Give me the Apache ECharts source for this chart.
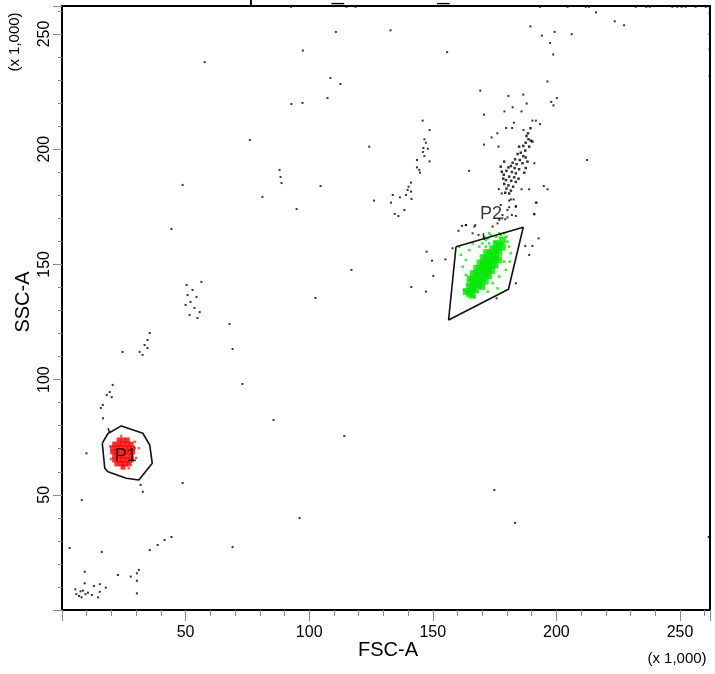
<!DOCTYPE html>
<html>
<head>
<meta charset="utf-8">
<script src="https://cdn.jsdelivr.net/npm/echarts@6/dist/echarts.min.js"></script>
<style>
html,body{margin:0;padding:0;background:#fff;}
#chart{width:715px;height:674px;}
</style>
</head>
<body>
<div id="chart"></div>
<script>
// ---- data (values in units of x 1,000) ----
const axisMax = 262.144;
const tickLabels = [50, 100, 150, 200, 250];
const chartTitle = 'Specimen_001-Tube_005';
const xName = 'FSC-A';
const yName = 'SSC-A';
const scaleNote = '(x 1,000)';

// ungated events (black)
const blackEvents = [
  [92.7,261.8],[115.1,261.8],[118.7,261.8],[193.4,261.8],[204.5,261.8],[211.9,261.8],[213.2,261.8],
  [232.1,261.8],[236.4,261.8],[237.8,261.8],[246.9,261.8],[248.9,261.8],[250.7,261.8],[252.3,261.8],
  [256.3,261.8],[260.4,261.8],[262.0,261.8],
  [262.0,259.0],[262.0,250.0],[262.0,243.4],[262.0,231.8],[261.6,31.7],
  [216.0,259.4],[223.6,255.5],[227.4,253.8],[206.2,249.9],
  [110.8,250.9],[132.9,251.6],[97.4,242.8],[155.8,242.1],[189.5,253.3],[194.1,249.3],[199.3,250.9],
  [197.4,246.1],[198.7,241.1],
  [57.7,237.8],[108.6,230.9],[107.4,222.2],[112.6,228.3],[92.8,219.6],[97.3,220.1],[76.0,204.0],
  [48.8,184.5],[88.0,191.0],[88.4,187.9],[88.8,185.3],[81.1,179.3],[94.9,174.0],[104.6,184.0],[44.3,165.4],
  [50.4,141.1],[52.8,138.9],[50.8,136.7],[54.4,135.9],[52.0,133.7],[50.0,132.4],[53.6,131.1],[55.7,129.3],
  [51.6,128.0],[54.8,126.7],[56.4,142.4],
  [67.8,124.1],[69.0,113.3],[73.0,98.1],
  [35.5,120.2],[34.6,117.2],[33.4,115.0],[34.6,113.7],[31.4,112.0],[32.6,110.7],[24.5,112.0],
  [20.5,97.7],[19.3,94.6],[20.1,92.4],[16.5,89.0],[15.7,87.7],[18.1,93.3],[16.6,83.2],
  [9.9,68.0],[31.8,54.3],[32.7,51.3],[48.8,55.1],[8.0,47.7],[3.1,26.9],
  [16.1,25.2],[35.5,26.0],[38.7,28.2],[41.5,30.4],[44.3,31.7],[69.0,27.3],[96.1,39.9],
  [114.2,75.5],[85.6,82.5],[117.1,147.6],[102.5,135.4],[141.3,140.2],[174.9,52.1],[183.3,37.8],
  [212.4,195.3],
  [9.2,16.6],[22.6,15.2],[27.8,14.5],[30.3,15.9],[31.1,17.4],[30.3,12.7],[30.3,7.2],[9.2,11.6],
  [12.9,10.4],[15.3,11.2],[17.7,9.7],[5.4,9.0],[5.8,6.9],[7.5,8.1],[8.5,8.4],[9.5,6.9],[10.5,7.5],
  [12.1,6.5],[14.6,5.5],[15.3,7.9],[7.9,5.5],[6.9,6.1],
  [169.2,225.4],[180.6,223.1],[186.6,223.7],[196.4,229.4],[200.2,222.2],[197.9,220.5],[198.8,219.0],
  [188.0,219.8],[182.3,218.2],[179.0,216.4],[185.9,216.4],[170.7,215.0],[190.3,212.4],[191.7,212.4],
  [193.4,210.9],[182.8,211.5],[179.7,209.2],[182.1,209.2],[186.7,208.3],[145.9,212.4],[148.7,208.3],
  [176.1,206.9],[173.8,205.1],[170.7,202.0],[176.6,201.1],[124.3,201.1],[146.6,204.3],[147.2,202.8],
  [148.0,200.2],[146.0,198.8],[146.2,200.5],[146.6,197.0],[143.6,195.3],[148.7,194.7],[144.5,191.0],
  [143.6,192.1],[144.8,189.8],[164.7,190.6],[141.2,185.5],[140.2,183.7],[139.8,182.3],[141.2,181.6],
  [139.2,180.1],[141.4,178.4],[136.7,179.1],[133.8,180.1],[133.1,176.8],[126.2,177.7],[138.5,173.6],
  [134.6,171.9],[136.1,171.0],[191.1,193.9],[194.9,184.0],[196.4,182.6],[189.0,182.6],[185.9,182.6],
  [191.7,176.8],[191.1,171.7],[183.6,175.0],[183.6,171.0],[180.9,174.8],[180.2,170.4],[177.5,175.8],
  [178.1,170.0],[176.7,182.7],[177.9,180.8],[181.6,178.2],[182.7,178.2],[163.4,167.0],[167.2,167.0],
  [174.2,166.4],[176.2,167.8],
  [180.9,177.7],[183.6,175.3],[192.0,176.8],[191.0,171.9],[180.2,173.6],[178.2,171.4],[179.3,169.6],
  [176.9,169.3],[182.0,171.4],[161.8,166.7],[163.4,167.1],[160.4,164.6],[166.8,166.4],[166.1,163.5],
  [168.5,162.8],[158.0,157.0],[147.5,155.5],[149.7,151.6],[155.1,152.2],[150.2,145.0],[147.2,138.2],
  [187.4,158.0],[190.3,158.0],[192.8,161.3],[189.0,154.1],[183.6,141.8],[175.8,135.3]
];

// dense ungated column above P2 (black)
const blackColumn = [
  [188.7,204.3],[189.7,203.7],[187.6,202.8],[186.6,201.4],[184.9,201.1],[187.4,199.4],[185.6,198.5],
  [184.3,197.9],[186.6,197.0],[183.3,195.6],[185.2,195.3],[187.6,196.4],[182.3,194.1],[183.9,193.5],
  [186.3,193.9],[181.6,192.7],[180.6,192.1],[183.1,191.8],[184.9,191.3],[179.8,190.6],[182.0,190.1],
  [183.6,189.5],[178.7,188.9],[180.9,188.1],[182.9,187.8],[184.7,187.2],[179.6,186.6],[181.7,186.3],
  [183.6,185.8],[178.9,184.9],[180.6,184.3],[182.5,183.7],[179.8,182.9],[181.6,182.0],[179.3,181.1],
  [180.9,180.8],[178.5,187.2],[177.9,190.2],[177.5,192.4],[178.9,194.6],[187.6,191.8],[187.0,189.8],
  [188.3,194.6],[189.0,201.1],[190.3,203.3],[187.9,205.7],[188.5,206.9],[189.5,209.1]
];

// P1 population (red)
const p1Core = [
  [23.1,73.8],[24.7,73.8],[26.4,73.8],
  [21.3,72.0],[23.1,72.0],[24.7,72.0],[26.4,72.0],[28.0,72.0],
  [20.5,70.3],[22.2,70.3],[23.9,70.3],[25.6,70.3],[27.2,70.3],[28.6,70.3],
  [20.5,68.6],[22.2,68.6],[23.9,68.6],[25.6,68.6],[27.2,68.6],[28.6,68.6],
  [21.3,66.8],[23.1,66.8],[24.7,66.8],[26.4,66.8],[28.0,66.8],
  [21.3,65.1],[23.1,65.1],[24.7,65.1],[26.4,65.1],[28.0,65.1],
  [22.2,63.4],[23.9,63.4],[25.6,63.4],[27.2,63.4],[24.7,62.0]
];
const p1Sparse = [
  [19.5,71.0],[29.5,73.0],[30.0,66.0],[24.0,75.5],[27.0,61.5],[19.8,65.5],[29.4,70.2],[31.1,70.2]
];

// P2 population (green)
const p2Core = [
  [164.8,137.4],[166.0,136.6],[163.6,138.2],
  [166.1,139.7],[167.3,138.9],[164.9,140.5],
  [167.5,142.0],[168.7,141.2],[166.3,142.8],[169.9,140.4],[165.1,143.6],
  [168.8,144.4],[170.0,143.6],[167.6,145.2],[171.2,142.8],[166.4,146.0],
  [170.2,146.7],[171.4,145.9],[169.0,147.5],[172.6,145.1],[167.8,148.3],
  [171.5,149.0],[172.7,148.2],[170.3,149.8],[173.9,147.4],[169.1,150.6],
  [172.8,151.3],[174.0,150.5],[171.6,152.1],[175.2,149.7],[170.4,152.9],
  [174.2,153.6],[175.4,152.8],[173.0,154.4],[176.6,152.0],[171.8,155.2],
  [175.5,156.0],[176.7,155.2],[174.3,156.8],
  [176.9,158.3],[178.1,157.5],[175.7,159.1],
  [178.2,160.6]
];
const p2Sparse = [
  [161.4,154.1],[162.1,149.0],[164.8,156.2],[171.5,160.6],[172.8,159.1],[175.5,162.0],[177.5,162.8],
  [178.9,163.5],[179.8,162.0],[180.9,157.7],[181.6,154.8],[181.2,151.2],[164.8,143.2],[164.1,141.1],
  [162.7,138.9],[174.2,141.8],[176.9,144.7],[168.8,157.7],[170.1,159.1],[173.5,162.8],[172.2,161.3],
  [163.4,151.9],[166.1,159.1],[160.7,157.7],[178.9,151.2],[179.6,147.6],[176.2,139.6],[172.2,138.2],
  [166.8,136.0],[163.4,145.4],[175.3,159.4],[178.2,159.1],[171.5,157.7],[180.2,159.9],[170.8,162.0],
  [176.9,163.5],[172.8,163.5]
];

// gates
const gateP1 = [
  [16.3,72.4],[18.6,76.6],[24.0,79.9],[32.7,76.7],[35.5,71.6],[36.5,63.7],[31.1,56.4],
  [26.0,57.2],[18.6,60.0],[17.3,61.5],[16.3,72.4]
];
const gateP2 = [
  [159.4,157.7],[186.6,166.1],[180.6,139.2],[156.4,125.9],[159.4,157.7]
];
const gateP1Tick = [[18.6,78.9],[19.3,77.0]];
const gateP2Tick = [[170.4,163.5],[170.8,160.6]];
const gateLabels = [[25.8,66.8,'P1'],[173.6,171.9,'P2']];

// ---- chart ----
const FONT = '"Liberation Sans", Arial, sans-serif';
const chart = echarts.init(document.getElementById('chart'), null, {renderer: 'canvas'});

function majorOnly(v) {
  return tickLabels.indexOf(Math.round(v * 1000) / 1000) >= 0 ? String(v) : '';
}

const option = {
  animation: false,
  backgroundColor: '#ffffff',
  grid: {left: 62, top: 6, right: 5, bottom: 64, show: true, borderColor: '#000', borderWidth: 2, backgroundColor: 'transparent'},
  xAxis: [
    {type: 'value', min: 0, max: axisMax, interval: 10,
     axisLine: {show: true, lineStyle: {color: '#000', width: 2}},
     axisTick: {show: true, length: 6, lineStyle: {color: '#8a8a8a', width: 1}},
     axisLabel: {show: true, margin: 15, formatter: majorOnly, color: '#000', fontSize: 16, fontFamily: FONT},
     splitLine: {show: false}},
    {type: 'value', min: 0, max: axisMax, interval: 50, position: 'bottom',
     axisLine: {show: false}, axisLabel: {show: false}, splitLine: {show: false},
     axisTick: {show: true, length: 11, lineStyle: {color: '#8a8a8a', width: 1}}}
  ],
  yAxis: [
    {type: 'value', min: 0, max: axisMax, interval: 10,
     axisLine: {show: true, lineStyle: {color: '#000', width: 2}},
     axisTick: {show: true, length: 4, lineStyle: {color: '#8a8a8a', width: 1}},
     axisLabel: {show: true, rotate: 90, margin: 9, formatter: majorOnly, color: '#000', fontSize: 16, fontFamily: FONT},
     splitLine: {show: false}},
    {type: 'value', min: 0, max: axisMax, interval: 50, position: 'left',
     axisLine: {show: false}, axisLabel: {show: false}, splitLine: {show: false},
     axisTick: {show: true, length: 9, lineStyle: {color: '#8a8a8a', width: 1}}}
  ],
  series: [
    {type: 'scatter', data: blackEvents, symbol: 'rect', symbolSize: 2, itemStyle: {color: '#000'}, silent: true},
    {type: 'scatter', data: blackColumn, symbol: 'rect', symbolSize: 2.5, itemStyle: {color: '#000'}, silent: true},
    {type: 'scatter', data: p2Sparse, symbol: 'rect', symbolSize: 2.5, itemStyle: {color: '#00e600'}, silent: true},
    {type: 'scatter', data: p2Core, symbol: 'rect', symbolSize: 7, itemStyle: {color: '#00e600'}, silent: true},
    {type: 'scatter', data: p1Sparse, symbol: 'rect', symbolSize: 2.5, itemStyle: {color: '#ff3030'}, silent: true},
    {type: 'scatter', data: p1Core, symbol: 'rect', symbolSize: 5, itemStyle: {color: '#ff0000'}, silent: true},
    {type: 'line', data: gateP1, symbol: 'none', lineStyle: {color: '#111', width: 1.6}, silent: true, z: 5},
    {type: 'line', data: gateP2, symbol: 'none', lineStyle: {color: '#111', width: 1.6}, silent: true, z: 5},
    {type: 'line', data: gateP1Tick, symbol: 'none', lineStyle: {color: '#111', width: 1.4}, silent: true, z: 5},
    {type: 'line', data: gateP2Tick, symbol: 'none', lineStyle: {color: '#111', width: 1.4}, silent: true, z: 5},
    {type: 'scatter', data: gateLabels, symbolSize: 0, silent: true, z: 6,
     label: {show: true, position: 'inside', formatter: p => p.data[2], color: '#000', fontSize: 18, fontFamily: FONT}}
  ],
  graphic: [
    {type: 'text', x: 360, y: -6, silent: true,
     style: {text: chartTitle, font: '22px ' + FONT, fill: '#000', textAlign: 'center', textVerticalAlign: 'middle', align: 'center', verticalAlign: 'middle'}},
    {type: 'text', x: 388, y: 650, silent: true,
     style: {text: xName, font: '20px ' + FONT, fill: '#000', textAlign: 'center', textVerticalAlign: 'middle', align: 'center', verticalAlign: 'middle'}},
    {type: 'text', x: 23, y: 302, rotation: Math.PI / 2, silent: true,
     style: {text: yName, font: '20px ' + FONT, fill: '#000', textAlign: 'center', textVerticalAlign: 'middle', align: 'center', verticalAlign: 'middle'}},
    {type: 'text', x: 677, y: 659, silent: true,
     style: {text: scaleNote, font: '15px ' + FONT, fill: '#000', textAlign: 'center', textVerticalAlign: 'middle', align: 'center', verticalAlign: 'middle'}},
    {type: 'text', x: 15, y: 42, rotation: Math.PI / 2, silent: true,
     style: {text: scaleNote, font: '15px ' + FONT, fill: '#000', textAlign: 'center', textVerticalAlign: 'middle', align: 'center', verticalAlign: 'middle'}}
  ]
};
chart.setOption(option);
</script>
</body>
</html>
